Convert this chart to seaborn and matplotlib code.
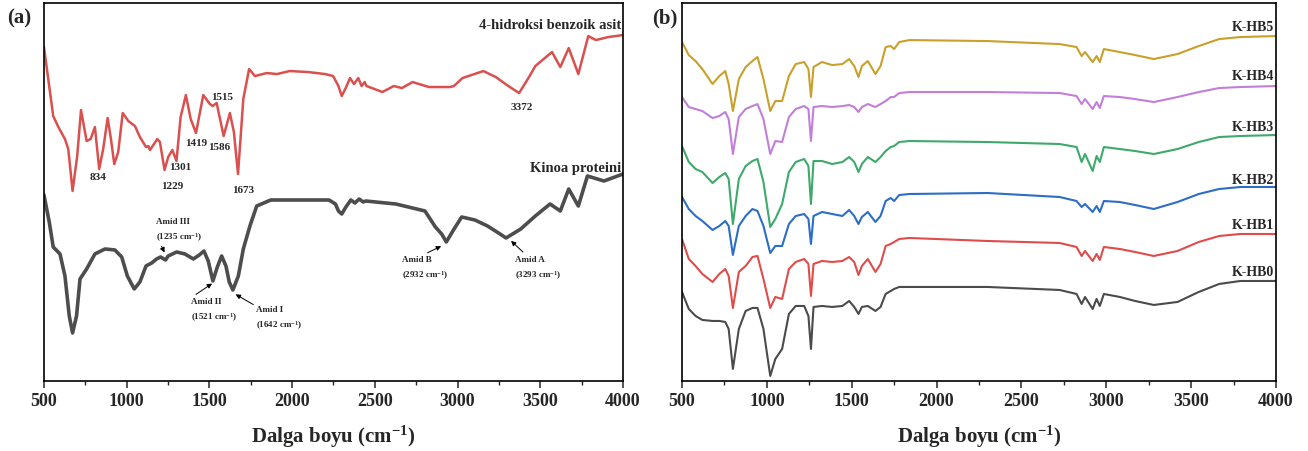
import numpy as np
import pandas as pd
import seaborn as sns
import matplotlib.pyplot as plt
from matplotlib.ticker import MultipleLocator

# ---- panel (a): FTIR of 4-hydroxybenzoic acid and quinoa protein (a.u.)
wn_hba = [500, 526, 556, 587, 627, 647, 673, 701, 724, 758, 782, 808, 834, 858, 885, 905,
          925, 949, 976, 1010, 1050, 1080, 1117, 1131, 1141, 1185, 1201, 1229, 1251, 1276,
          1301, 1326, 1358, 1387, 1419, 1463, 1503, 1520, 1544, 1586, 1624, 1648, 1673,
          1705, 1740, 1775, 1846, 1909, 1985, 2097, 2199, 2248, 2280, 2300, 2324, 2350,
          2374, 2400, 2420, 2438, 2450, 2546, 2614, 2664, 2728, 2827, 2954, 2978, 3030,
          3156, 3231, 3307, 3372, 3432, 3470, 3571, 3621, 3672, 3730, 3790, 3836, 3911, 4000]
t_hba = [334, 302, 265, 254, 242, 232, 190, 225, 271, 240, 242, 254, 212, 232, 263, 242,
         217, 229, 268, 260, 255, 244, 234, 235, 231, 242, 239, 211, 224, 231,
         220, 264, 286, 262, 248, 286, 277, 275, 278, 245, 268, 249, 207,
         282, 312, 305, 308, 307, 310, 309, 307, 305, 295, 285, 293, 303,
         297, 303, 295, 299, 295, 289, 295, 293, 299, 294, 294, 295, 303,
         310, 304, 295, 288, 304, 315, 329, 314, 333, 307, 345, 341, 344, 346]

wn_kin = [500, 532, 556, 597, 627, 653, 673, 697, 718, 758, 808, 869, 929, 970, 1004, 1046,
          1080, 1117, 1151, 1181, 1205, 1235, 1251, 1302, 1352, 1403, 1439, 1467, 1493,
          1521, 1548, 1574, 1600, 1620, 1642, 1675, 1705, 1745, 1786, 1871, 1997, 2223,
          2262, 2280, 2300, 2325, 2355, 2380, 2405, 2430, 2445, 2627, 2803, 2866, 2904,
          2932, 2979, 3025, 3105, 3181, 3257, 3293, 3382, 3470, 3559, 3621, 3672, 3730,
          3785, 3885, 4000]
t_kin = [186, 159, 134, 127, 105, 65, 48, 65, 102, 112, 127, 132, 131, 124, 105, 92,
         99, 115, 118, 122, 124, 121, 125, 129, 127, 122, 126, 130, 120,
         100, 114, 125, 115, 99, 91, 105, 132, 155, 175, 181, 181, 181,
         177, 170, 167, 174, 181, 178, 182, 179, 180, 177, 170, 154, 147,
         139, 152, 164, 161, 155, 147, 143, 152, 165, 177, 170, 192, 175,
         205, 200, 207]

# ---- panel (b): K-HB0 ... K-HB5 (a.u., stacked)
wn_b = [500, 540, 580, 620, 680, 720, 755, 775, 800, 835, 875, 915, 945, 980, 1020, 1050,
        1090, 1130, 1170, 1220, 1245, 1260, 1275, 1325, 1385, 1445, 1485, 1515, 1540, 1560,
        1595, 1640, 1670, 1700, 1730, 1750, 1780, 1840, 2300, 2725, 2825, 2855, 2875, 2920,
        2943, 2962, 2986, 3080, 3170, 3280, 3420, 3545, 3665, 3790, 4000]
khb5 = [339, 326, 320, 312, 297, 305, 310, 297, 270, 302, 314, 320, 324, 302, 270, 280,
        280, 305, 317, 319, 312, 284, 314, 319, 316, 317, 322, 315, 304, 315,
        320, 307, 315, 334, 335, 332, 339, 341, 340, 337, 334, 325, 329, 319,
        325, 319, 332, 329, 326, 322, 327, 335, 342, 344, 345]
khb4 = [284, 274, 272, 270, 263, 265, 269, 262, 227, 264, 272, 275, 277, 262, 227, 240,
        239, 264, 272, 275, 272, 240, 274, 275, 274, 275, 276, 274, 269, 274,
        277, 274, 277, 280, 284, 284, 288, 289, 289, 288, 285, 277, 282, 272,
        279, 273, 285, 284, 282, 279, 284, 289, 293, 294, 295]
khb3 = [235, 219, 212, 209, 198, 204, 208, 202, 157, 202, 215, 220, 222, 199, 154, 162,
        177, 209, 219, 222, 215, 177, 220, 220, 217, 219, 224, 219, 209, 217,
        224, 219, 224, 230, 234, 235, 239, 240, 239, 237, 234, 219, 227, 210,
        225, 219, 234, 232, 230, 227, 232, 239, 244, 245, 246]
khb2 = [184, 172, 165, 160, 151, 155, 160, 155, 126, 155, 165, 172, 170, 155, 128, 135,
        135, 157, 165, 167, 162, 137, 165, 169, 167, 165, 171, 165, 157, 164,
        169, 159, 165, 180, 183, 180, 186, 187, 188, 184, 180, 174, 177, 169,
        175, 169, 180, 179, 176, 172, 179, 187, 192, 194, 194]
khb1 = [142, 122, 115, 107, 99, 107, 112, 105, 73, 109, 115, 124, 125, 102, 73, 84,
        82, 112, 119, 122, 117, 85, 117, 120, 119, 120, 124, 119, 106, 115,
        122, 109, 117, 135, 137, 139, 142, 143, 140, 138, 134, 125, 130, 120,
        127, 121, 134, 132, 129, 125, 130, 139, 145, 147, 147]
khb0 = [89, 72, 65, 61, 60, 60, 59, 52, 12, 52, 70, 73, 73, 52, 5, 22,
        32, 67, 75, 75, 65, 32, 74, 75, 74, 75, 80, 74, 67, 74,
        75, 70, 74, 87, 90, 92, 94, 94, 94, 91, 87, 77, 84, 72,
        82, 75, 87, 84, 80, 76, 79, 89, 97, 100, 100]

samples = ['K-HB5', 'K-HB4', 'K-HB3', 'K-HB2', 'K-HB1', 'K-HB0']
label_t = [355, 306, 255, 202, 156, 109]
colors_b = ['#C9A02C', '#C17FD8', '#3DA96B', '#2C6DC6', '#E04B4B', '#4B4B4B']

sns.set_theme(style='white')
plt.rcParams['font.family'] = ['Liberation Serif', 'DejaVu Serif']
plt.rcParams['font.weight'] = 'bold'
plt.rcParams['mathtext.fontset'] = 'custom'
plt.rcParams['mathtext.rm'] = 'Liberation Serif:bold'
plt.rcParams['mathtext.default'] = 'rm'

fig = plt.figure(figsize=(13.08, 4.52), dpi=100)
ax1 = fig.add_axes([0.0336, 0.155, 0.4427, 0.836])
ax2 = fig.add_axes([0.5214, 0.155, 0.4541, 0.836])

df_hba = pd.DataFrame({'wn': wn_hba, 't': t_hba})
df_kin = pd.DataFrame({'wn': wn_kin, 't': t_kin})
sns.lineplot(data=df_hba, x='wn', y='t', sort=False, estimator=None, color='#D9504F', lw=1.8, ax=ax1)
sns.lineplot(data=df_kin, x='wn', y='t', sort=False, estimator=None, color='#4D4D4D', lw=2.6, ax=ax1)

peaks = [('834', 826, 205), ('1229', 1277, 196), ('1301', 1326, 215), ('1419', 1419, 239),
         ('1515', 1576, 285), ('1586', 1558, 235), ('1673', 1703, 192), ('3372', 3388, 275)]
for txt, px, py in peaks:
    ax1.text(px, py, txt, ha='center', va='center', fontsize=8, fontweight='bold')

ax1.text(3990, 357, '4-hidroksi benzoik asit', ha='right', va='center', fontsize=10.5, fontweight='bold')
ax1.text(3990, 214, 'Kinoa proteini', ha='right', va='center', fontsize=10.5, fontweight='bold')

amides = [('Amid III\n(1235 cm$^{-1}$)', 1177, 151, (1204, 137), (1236, 126)),
          ('Amid II\n(1521 cm$^{-1}$)', 1387, 71, (1405, 85), (1530, 99)),
          ('Amid I\n(1642 cm$^{-1}$)', 1780, 63, (1780, 75), (1644, 88)),
          ('Amid B\n(2932 cm$^{-1}$)', 2664, 113, (2803, 127), (2916, 136)),
          ('Amid A\n(3293 cm$^{-1}$)', 3345, 113, (3408, 127), (3311, 142))]
for txt, tx, ty, start, end in amides:
    ax1.text(tx, ty, txt, ha='left', va='center', fontsize=6.5, fontweight='bold', linespacing=1.7)
    ax1.annotate('', xy=end, xytext=start,
                 arrowprops=dict(arrowstyle='-|>', color='black', lw=0.7, mutation_scale=7))

rows = []
for name, vals in zip(samples, [khb5, khb4, khb3, khb2, khb1, khb0]):
    rows.append(pd.DataFrame({'wn': wn_b, 't': vals, 'sample': name}))
df_b = pd.concat(rows, ignore_index=True)
sns.lineplot(data=df_b, x='wn', y='t', hue='sample', hue_order=samples, palette=colors_b,
             sort=False, estimator=None, lw=1.5, legend=False, ax=ax2)
for name, ty in zip(samples, label_t):
    ax2.text(3988, ty, name, ha='right', va='center', fontsize=10, fontweight='bold')

for ax in (ax1, ax2):
    ax.set_xlim(500, 4000)
    ax.set_ylim(0, 378)
    ax.xaxis.set_major_locator(MultipleLocator(500))
    ax.xaxis.set_minor_locator(MultipleLocator(250))
    ax.tick_params(axis='x', which='major', direction='out', length=5, width=1.1,
                   labelsize=13, bottom=True, pad=3)
    ax.tick_params(axis='x', which='minor', direction='out', length=3, width=1, bottom=True)
    ax.set_yticks([])
    for lab in ax.get_xticklabels():
        lab.set_fontweight('bold')
    for sp in ax.spines.values():
        sp.set_color('black')
        sp.set_linewidth(1.2)
    ax.set_ylabel('')
    ax.set_xlabel('Dalga boyu (cm$^{-1}$)', fontsize=15, fontweight='bold', labelpad=10)

fig.text(0.0149, 0.96, '(a)', fontsize=15, fontweight='bold', ha='center', va='center')
fig.text(0.508, 0.96, '(b)', fontsize=15, fontweight='bold', ha='center', va='center')

fig.savefig('out.png', dpi=100)
